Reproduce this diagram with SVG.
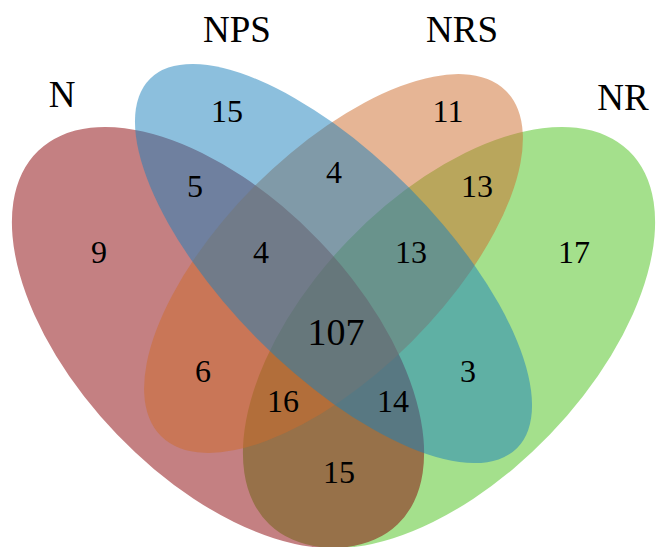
<svg xmlns="http://www.w3.org/2000/svg" width="656" height="547" viewBox="0 0 656 547">
<style>
.set{fill-opacity:0.5;stroke:none}
.lbl{font-family:"Liberation Serif","Times New Roman",serif;font-size:37px;fill:#000;text-anchor:middle}
.num{font-family:"Liberation Serif","Times New Roman",serif;font-size:32px;fill:#000;text-anchor:middle}
.big{font-size:38px}
</style>
<rect width="656" height="547" fill="#fff"/>
<g id="set-NR">
<ellipse class="set" cx="449" cy="337.5" rx="259.2" ry="140" fill="#49C119" transform="rotate(-46.1 449 337.5)"/>
<text class="lbl" x="623" y="110">NR</text>
</g>
<g id="set-N">
<ellipse class="set" cx="218" cy="337.5" rx="259.2" ry="140" fill="#890105" transform="rotate(46.1 218 337.5)"/>
<text class="lbl" x="62" y="107">N</text>
</g>
<g id="set-NRS">
<ellipse class="set" cx="333.5" cy="263.5" rx="244" ry="110.5" fill="#CD6B2B" transform="rotate(-45 333.5 263.5)"/>
<text class="lbl" x="462" y="42">NRS</text>
</g>
<g id="set-NPS">
<ellipse class="set" cx="333.5" cy="263.5" rx="260.3" ry="107.1" fill="#197FBB" transform="rotate(45.2 333.5 263.5)"/>
<text class="lbl" x="237" y="42">NPS</text>
</g>
<g id="counts">
<text class="num" x="227" y="122">15</text>
<text class="num" x="448" y="122">11</text>
<text class="num" x="195" y="197">5</text>
<text class="num" x="334" y="183">4</text>
<text class="num" x="477" y="197">13</text>
<text class="num" x="99" y="263">9</text>
<text class="num" x="261" y="263">4</text>
<text class="num" x="411" y="263">13</text>
<text class="num" x="574" y="263">17</text>
<text class="num big" x="336" y="345">107</text>
<text class="num" x="203" y="382">6</text>
<text class="num" x="468" y="382">3</text>
<text class="num" x="283" y="412">16</text>
<text class="num" x="393" y="412">14</text>
<text class="num" x="339" y="483">15</text>
</g>
</svg>
